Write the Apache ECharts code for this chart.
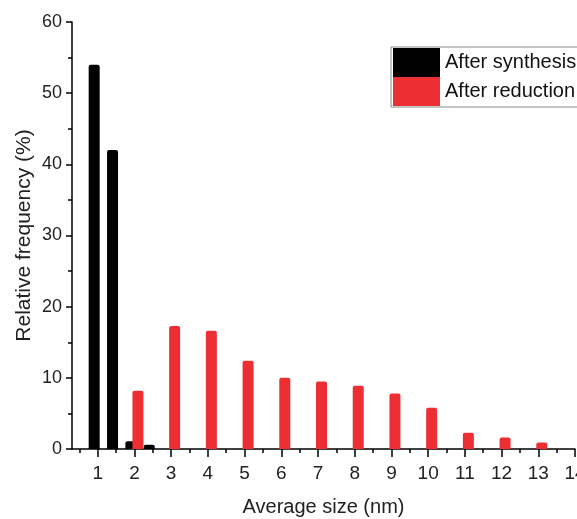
<!DOCTYPE html>
<html>
<head>
<meta charset="utf-8">
<script src="https://cdn.jsdelivr.net/npm/echarts@6/dist/echarts.min.js"></script>
<style>
  html, body { margin: 0; padding: 0; background: #fff; }
  #chart { width: 577px; height: 519px; }
</style>
</head>
<body>
<div id="chart"></div>
<script>
// sizes (nm) and relative frequency (%)
const synthesisSizes = [1, 1.5, 2, 2.5];
const synthesisFreq = [54, 42, 1.1, 0.6];
const reductionSizes = [2, 3, 4, 5, 6, 7, 8, 9, 10, 11, 12, 13];
const reductionFreq = [8.2, 17.3, 16.6, 12.4, 10.0, 9.5, 8.9, 7.8, 5.8, 2.3, 1.6, 0.9];
const xMajorTicks = [1, 2, 3, 4, 5, 6, 7, 8, 9, 10, 11, 12, 13, 14];
const xMinorTicks = [0.5, 1.5, 2.5, 3.5, 4.5, 5.5, 6.5, 7.5, 8.5, 9.5, 10.5, 11.5, 12.5, 13.5];

const font = "'Liberation Sans', Arial, sans-serif";

const chart = echarts.init(document.getElementById('chart'));

const pairs = (xs, ys) => xs.map((x, i) => [x, ys[i]]);

chart.setOption({
  animation: false,
  textStyle: { fontFamily: font },
  grid: { left: 72, right: 2, top: 22, bottom: 70, outerBoundsMode: 'none', containLabel: false },
  legend: {
    orient: 'vertical',
    left: 391,
    top: 47,
    itemWidth: 47,
    itemHeight: 29,
    itemGap: 0,
    padding: [1, 2, 1, 2],
    borderColor: '#888',
    borderWidth: 1,
    icon: 'rect',
    textStyle: { fontSize: 20, color: '#111', fontFamily: font },
    data: ['After synthesis', 'After reduction']
  },
  xAxis: [
    {
      type: 'value',
      min: 0.3,
      max: 14,
      name: 'Average size (nm)',
      nameLocation: 'middle',
      nameGap: 48,
      nameMoveOverlap: false,
      nameTextStyle: { fontSize: 20, color: '#222', fontFamily: font },
      splitLine: { show: false },
      axisLine: { lineStyle: { color: '#000', width: 1.5 } },
      axisTick: { length: 8, lineStyle: { color: '#000', width: 1.5 }, customValues: xMajorTicks },
      axisLabel: { fontSize: 19, color: '#222', margin: 15, customValues: xMajorTicks, hideOverlap: false }
    },
    {
      type: 'value',
      min: 0.3,
      max: 14,
      position: 'bottom',
      splitLine: { show: false },
      axisLine: { show: false },
      axisTick: { length: 4, lineStyle: { color: '#000', width: 1.5 }, customValues: xMinorTicks },
      axisLabel: { show: false }
    }
  ],
  yAxis: {
    type: 'value',
    min: 0,
    max: 60,
    interval: 10,
    name: 'Relative frequency (%)',
    nameLocation: 'middle',
    nameGap: 37,
    nameMoveOverlap: false,
    nameTextStyle: { fontSize: 21, color: '#222', fontFamily: font },
    splitLine: { show: false },
    axisLine: { show: true, lineStyle: { color: '#000', width: 1.5 } },
    axisTick: { length: 6, lineStyle: { color: '#000', width: 1.5 } },
    minorTick: { show: true, splitNumber: 2, length: 4, lineStyle: { color: '#000', width: 1.5 } },
    axisLabel: { fontSize: 18, color: '#222', margin: 10 }
  },
  series: [
    {
      name: 'After synthesis',
      type: 'bar',
      xAxisIndex: 0,
      barWidth: 11,
      barGap: '-36%',
      itemStyle: { color: '#000', borderRadius: [2, 2, 0, 0] },
      data: pairs(synthesisSizes, synthesisFreq)
    },
    {
      name: 'After reduction',
      type: 'bar',
      xAxisIndex: 0,
      barWidth: 11,
      barGap: '-36%',
      itemStyle: { color: '#ed2e33', borderRadius: [2, 2, 0, 0] },
      data: pairs(reductionSizes, reductionFreq)
    }
  ]
});
</script>
</body>
</html>
